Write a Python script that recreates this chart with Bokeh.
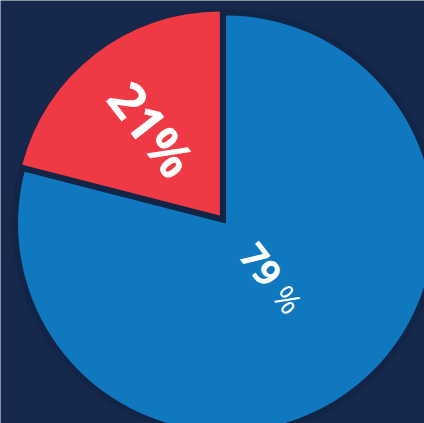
import math
from bokeh.plotting import figure
from bokeh.models import ColumnDataSource
from bokeh.core.properties import value
from bokeh.embed import file_html
from bokeh.resources import INLINE

# Data
categories = ["Blue", "Red"]
values = [79, 21]
colors = ["#0f78bf", "#ef3945"]
label_numbers = ["79", "21"]

BG = "#16284b"
W, H = 424, 423
CX, CY = 225.5, 200.0  # pie centre, pixel units from bottom-left

total = float(sum(values))
span_blue = values[0] / total * 2 * math.pi
span_red = values[1] / total * 2 * math.pi
top = math.pi / 2

blue_start = top - span_blue
blue_end = top
red_start = top
red_end = top + span_red

blue_mid = (blue_start + blue_end) / 2
red_mid = (red_start + red_end) / 2

explode = 10.0
R_blue, R_red = 208.0, 204.0
red_cx = explode * math.cos(red_mid)
red_cy = explode * math.sin(red_mid)

p = figure(width=W, height=H, x_range=(-CX, W - CX), y_range=(-CY, H - CY),
           output_backend="svg", toolbar_location=None, min_border=0,
           background_fill_color=BG, border_fill_color=BG, outline_line_color=None)
p.axis.visible = False
p.grid.visible = False

# subtle darker halo around the pie
p.circle(x=[0], y=[0], radius=R_blue + 6, fill_color="#132546", line_color=None)

src = ColumnDataSource(dict(
    x=[0, red_cx], y=[0, red_cy], r=[R_blue, R_red],
    start=[blue_start, red_start], end=[blue_end, red_end], color=colors,
))
p.wedge(x="x", y="y", radius="r", start_angle="start", end_angle="end",
        fill_color="color", line_color=None, source=src)

text_angle = blue_mid
ux, uy = math.cos(text_angle), math.sin(text_angle)

# 21% label (bold)
d21 = 110
p.text(x=[red_cx + d21 * math.cos(red_mid)], y=[red_cy + d21 * math.sin(red_mid)],
       text=[label_numbers[1] + "%"], angle=text_angle,
       text_align="center", text_baseline="middle",
       text_font=value("Open Sans"), text_font_style="bold",
       text_font_size="51px", text_color="white")

# 79% label: bold number + lighter percent sign
d79 = 52
d_pct = 96
p.text(x=[d79 * ux + 3], y=[d79 * uy], text=[label_numbers[0]], angle=text_angle,
       text_align="center", text_baseline="middle",
       text_font=value("Open Sans"), text_font_style="bold",
       text_font_size="37px", text_color="white")
p.text(x=[d_pct * ux + 3], y=[d_pct * uy], text=["%"], angle=text_angle,
       text_align="center", text_baseline="middle",
       text_font=value("Open Sans"), text_font_style="normal",
       text_font_size="31px", text_color="white")

open("out.html", "w").write(file_html(p, INLINE))
